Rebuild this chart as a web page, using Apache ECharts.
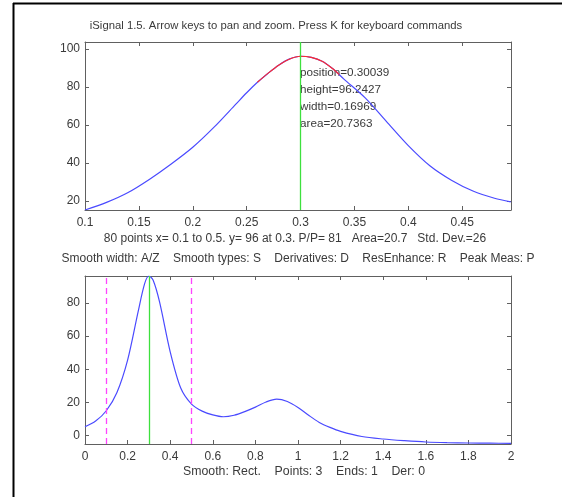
<!DOCTYPE html>
<html><head><meta charset="utf-8">
<script src="https://cdn.jsdelivr.net/npm/echarts@6/dist/echarts.min.js"></script>
<style>html,body{margin:0;padding:0;background:#fff;overflow:hidden}#c{width:562px;height:497px}</style>
</head><body><div id="c"></div>
<script>
// ---- data ----
const titleText = 'iSignal 1.5. Arrow keys to pan and zoom. Press K for keyboard commands';
const infoText = '80 points x= 0.1 to 0.5. y= 96 at 0.3. P/P= 81   Area=20.7   Std. Dev.=26';
const keysText = 'Smooth width: A/Z    Smooth types: S    Derivatives: D    ResEnhance: R    Peak Meas: P';
const smoothText = 'Smooth: Rect.    Points: 3    Ends: 1    Der: 0';
const peakLabels = ['position=0.30039', 'height=96.2427', 'width=0.16969', 'area=20.7363'];

const topX = [0.1, 0.12, 0.14, 0.16, 0.18, 0.20, 0.22, 0.24, 0.25, 0.26, 0.27, 0.28, 0.29, 0.30, 0.31, 0.32, 0.33, 0.34, 0.36, 0.38, 0.40, 0.42, 0.44, 0.46, 0.48, 0.495];
const topY = [15.3, 19.3, 24.5, 31.5, 39.5, 48.3, 59, 71, 77, 82.5, 87.3, 91.6, 94.8, 96.2, 95.6, 93.6, 89.6, 84.3, 74.3, 61.7, 49.2, 38.6, 31, 25.3, 21.5, 19.6];
const fitX = [0.26, 0.27, 0.28, 0.29, 0.30, 0.31, 0.32, 0.33, 0.336];
const fitY = [82.5, 87.3, 91.6, 94.8, 96.2, 95.6, 93.6, 89.6, 86.5];
const topXTicks = [0.1, 0.15, 0.2, 0.25, 0.3, 0.35, 0.4, 0.45];
const topYTicks = [20, 40, 60, 80, 100];
const peakPos = 0.3;

const botX = [0, 0.05, 0.1, 0.15, 0.2, 0.25, 0.28, 0.3, 0.32, 0.35, 0.4, 0.45, 0.5, 0.55, 0.6, 0.65, 0.7, 0.75, 0.8, 0.85, 0.9, 0.95, 1.0, 1.05, 1.1, 1.15, 1.2, 1.3, 1.4, 1.5, 1.6, 1.7, 1.8, 1.9, 2];
const botY = [5.4, 8.8, 15, 26, 45.5, 75, 91.5, 96.1, 93.5, 80.5, 50.5, 28.5, 19, 14.8, 12.5, 11.4, 12.3, 14.5, 17.2, 20.3, 22, 20.6, 17, 12.3, 8, 5, 2.6, -0.5, -2, -3, -3.8, -4.2, -4.4, -4.5, -4.6];
const botXTicks = [0, 0.2, 0.4, 0.6, 0.8, 1, 1.2, 1.4, 1.6, 1.8, 2];
const botYTicks = [0, 20, 40, 60, 80];
const windowEdges = [0.1, 0.5];

// ---- chart ----
const FONT = 'Liberation Sans, Arial, sans-serif';
const axisCol = '#606060';
const labCol = '#3a3a3a';
const blue = '#4a4aff';
const zip = (a, b) => a.map((v, i) => [v, b[i]]);

function xAx(grid, min, max, ticks, pos, showLab) {
  return {
    type: 'value', gridIndex: grid, min: min, max: max, position: pos,
    axisLine: {show: true, onZero: false, lineStyle: {color: axisCol, width: 1}},
    axisTick: {show: true, inside: true, length: 4, customValues: ticks, lineStyle: {color: axisCol}},
    axisLabel: {show: showLab, customValues: ticks, color: labCol, fontFamily: FONT, fontSize: 12, margin: 7},
    splitLine: {show: false}
  };
}
function yAx(grid, min, max, ticks, pos, showLab) {
  return {
    type: 'value', gridIndex: grid, min: min, max: max, position: pos,
    axisLine: {show: true, onZero: false, lineStyle: {color: axisCol, width: 1}},
    axisTick: {show: true, inside: true, length: 4, customValues: ticks, lineStyle: {color: axisCol}},
    axisLabel: {show: showLab, customValues: ticks, color: labCol, fontFamily: FONT, fontSize: 12, margin: 5},
    splitLine: {show: false}
  };
}

const chart = echarts.init(document.getElementById('c'), null, {renderer: 'canvas'});
const txt = (t, x, y, size, align) => ({type: 'text', x: x, y: y, style: {text: t, fill: labCol, font: size + 'px ' + FONT, textAlign: align || 'center', textVerticalAlign: 'middle'}});

chart.setOption({
  animation: false,
  backgroundColor: '#fff',
  grid: [
    {left: 85, top: 42, width: 426, height: 168, show: false},
    {left: 85, top: 276, width: 426, height: 168, show: false}
  ],
  xAxis: [
    xAx(0, 0.1, 0.4953, topXTicks, 'bottom', true),
    xAx(0, 0.1, 0.4953, topXTicks, 'top', false),
    xAx(1, 0, 2, botXTicks, 'bottom', true),
    xAx(1, 0, 2, botXTicks, 'top', false)
  ],
  yAxis: [
    yAx(0, 15.3, 103.7, topYTicks, 'left', true),
    yAx(0, 15.3, 103.7, topYTicks, 'right', false),
    yAx(1, -5, 96.1, botYTicks, 'left', true),
    yAx(1, -5, 96.1, botYTicks, 'right', false)
  ],
  series: [
    {type: 'line', xAxisIndex: 0, yAxisIndex: 0, data: zip(topX, topY), smooth: 0.3, symbol: 'none',
      lineStyle: {color: blue, width: 1.2},
      markLine: {silent: true, symbol: 'none', label: {show: false}, lineStyle: {color: '#3ee03e', type: 'solid', width: 1.3},
        data: [{xAxis: peakPos}]}},
    {type: 'line', xAxisIndex: 0, yAxisIndex: 0, data: zip(fitX, fitY), smooth: 0.3, symbol: 'none',
      lineStyle: {color: '#ff2a2a', width: 1.1}, z: 3},
    {type: 'line', xAxisIndex: 2, yAxisIndex: 2, data: zip(botX, botY), smooth: 0.3, symbol: 'none',
      lineStyle: {color: blue, width: 1.2},
      markLine: {silent: true, symbol: 'none', label: {show: false},
        data: [
          {xAxis: peakPos, lineStyle: {color: '#3ee03e', type: 'solid', width: 1.3}},
          {xAxis: windowEdges[0], lineStyle: {color: '#ff44ff', type: [6, 4], width: 1.3}},
          {xAxis: windowEdges[1], lineStyle: {color: '#ff44ff', type: [6, 4], width: 1.3}}
        ]}}
  ],
  graphic: [
    {type: 'line', shape: {x1: 13.5, y1: 3, x2: 13.5, y2: 497}, style: {stroke: '#000', lineWidth: 2}},
    {type: 'line', shape: {x1: 13, y1: 3.5, x2: 562, y2: 3.5}, style: {stroke: '#000', lineWidth: 2}},
    txt(titleText, 276, 26, 11.3),
    txt(infoText, 295, 239, 12),
    txt(keysText, 298, 259, 12),
    txt(smoothText, 304, 472, 12.3),
    txt(peakLabels[0], 300, 73, 11.7, 'left'),
    txt(peakLabels[1], 300, 90, 11.7, 'left'),
    txt(peakLabels[2], 300, 107, 11.7, 'left'),
    txt(peakLabels[3], 300, 124, 11.7, 'left')
  ]
});
</script></body></html>
